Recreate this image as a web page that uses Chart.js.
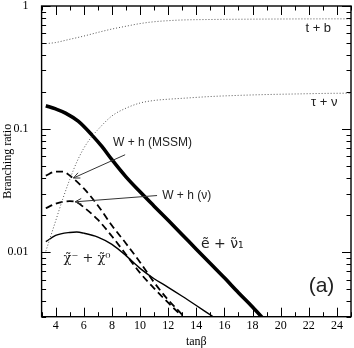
<!DOCTYPE html>
<html>
<head>
<meta charset="utf-8">
<script src="https://cdn.jsdelivr.net/npm/chart.js@4/dist/chart.umd.min.js"></script>
<style>
html,body{margin:0;padding:0;background:#fff;}
#wrap{width:354px;height:348px;position:relative;}
</style>
</head>
<body>
<div id="wrap"><canvas id="c" width="354" height="348"></canvas></div>
<script>
// ---- data ----
const tbX   = [3.3, 4, 4.8, 6, 7, 8, 9, 10, 11, 12, 13, 15, 18, 21, 25];
const tbY   = [0.495, 0.505, 0.53, 0.57, 0.61, 0.65, 0.685, 0.72, 0.745, 0.76, 0.77, 0.777, 0.782, 0.785, 0.787];

const tauX  = [3.3, 3.6, 4, 4.5, 5, 5.5, 6, 6.5, 7, 8, 9, 10, 11, 12, 13, 15, 17, 19, 21, 23, 25];
const tauY  = [0.0102, 0.013, 0.018, 0.027, 0.039, 0.054, 0.07, 0.085, 0.099, 0.128, 0.148, 0.163, 0.171, 0.175, 0.178, 0.184, 0.188, 0.191, 0.193, 0.195, 0.196];

const selX  = [3.3, 4, 4.7, 5.6, 6.6, 7.3, 8, 9, 10, 11, 12, 13, 14, 15, 16, 17, 18, 19];
const selY  = [0.155, 0.146, 0.135, 0.116, 0.089, 0.072, 0.0565, 0.041, 0.031, 0.0237, 0.0182, 0.0139, 0.0106, 0.0081, 0.0062, 0.0047, 0.0036, 0.0027];

const whmX  = [3.3, 4, 4.5, 5, 6, 7, 8, 9, 10, 11, 12, 13, 13.5];
const whmY  = [0.042, 0.0452, 0.0452, 0.042, 0.033, 0.024, 0.0165, 0.0118, 0.0083, 0.0057, 0.0041, 0.0031, 0.0026];

const whnX  = [3.3, 4, 5, 5.5, 6, 7, 8, 9, 10, 11, 12, 13, 13.5];
const whnY  = [0.0228, 0.0248, 0.026, 0.0255, 0.0232, 0.0184, 0.0135, 0.0096, 0.0068, 0.0051, 0.0039, 0.003, 0.0026];

const chiX  = [3.3, 4, 5, 5.5, 6, 7, 8, 9, 10, 11, 12, 13, 14, 15, 16];
const chiY  = [0.0122, 0.0137, 0.0145, 0.0146, 0.0143, 0.0133, 0.0116, 0.0094, 0.0074, 0.0061, 0.0052, 0.0044, 0.0037, 0.0031, 0.0026];

const xTickLabels = [4, 6, 8, 10, 12, 14, 16, 18, 20, 22, 24];
const yTickLabels = [0.01, 0.1, 1];

const xMin = 3, xMax = 25, yMin = 0.003, yMax = 1;

function pts(xs, ys){ return xs.map((x,i)=>({x:x, y:ys[i]})); }

// annotation texts: [text, x(tanβ), y(BR), font, align]
const notes = [
  ['t + b', 22.67, 0.663, '13px "Liberation Sans"', 'center'],
  ['\u03C4 + \u03BD', 23.1, 0.164, '13px "Liberation Sans"', 'center'],
  ['W + h (MSSM)', 8.08, 0.0776, '12px "Liberation Sans"', 'left'],
  ['W + h (\u03BD)', 11.57, 0.0289, '12px "Liberation Sans"', 'left'],
  ['e\u0303 + \u03BD\u0303\u2081', 15.85, 0.0116, '14px "DejaVu Sans"', 'center'],
  ['\u03C7\u0303\u207B + \u03C7\u0303\u2070', 6.23, 0.0089, '13px "DejaVu Serif"', 'center'],
  ['(a)', 22.9, 0.00528, '21px "Liberation Sans"', 'center']
];
// arrows: [fromX, fromY, toX, toY]
const arrows = [
  [8.94, 0.062, 5.26, 0.0401],
  [11.21, 0.0289, 5.38, 0.0257]
];

const decor = {
  id: 'decor',
  afterDatasetsDraw(chart){
    const ctx = chart.ctx, xs = chart.scales.x, ys = chart.scales.y, a = chart.chartArea;
    ctx.save();
    // frame
    ctx.strokeStyle = '#000';
    ctx.lineWidth = 1.4;
    ctx.strokeRect(a.left, a.top, a.right - a.left, a.bottom - a.top);
    // ticks
    ctx.lineWidth = 1;
    ctx.beginPath();
    for (let t = xMin; t <= xMax; t++) {
      const px = Math.round(xs.getPixelForValue(t)) + 0.5;
      const L = (t % 2 === 0) ? 9 : 4.5;
      ctx.moveTo(px, a.bottom); ctx.lineTo(px, a.bottom - L);
      ctx.moveTo(px, a.top); ctx.lineTo(px, a.top + L);
    }
    for (let d = 0.001; d <= 1.0001; d *= 10) {
      for (let m = 1; m <= 9; m++) {
        const v = d * m;
        if (v < yMin * 0.999 || v > yMax * 1.001) continue;
        const py = Math.round(ys.getPixelForValue(v)) + 0.5;
        const L = (m === 1) ? 9 : 4.5;
        ctx.moveTo(a.left, py); ctx.lineTo(a.left + L, py);
        ctx.moveTo(a.right, py); ctx.lineTo(a.right - L, py);
      }
    }
    ctx.stroke();
    // arrows
    ctx.strokeStyle = '#333';
    ctx.lineWidth = 1;
    arrows.forEach(ar => {
      const x1 = xs.getPixelForValue(ar[0]), y1 = ys.getPixelForValue(ar[1]);
      const x2 = xs.getPixelForValue(ar[2]), y2 = ys.getPixelForValue(ar[3]);
      const ang = Math.atan2(y2 - y1, x2 - x1);
      ctx.beginPath();
      ctx.moveTo(x1, y1); ctx.lineTo(x2, y2);
      const h = 7, s = 0.42;
      ctx.moveTo(x2 - h*Math.cos(ang - s), y2 - h*Math.sin(ang - s));
      ctx.lineTo(x2, y2);
      ctx.lineTo(x2 - h*Math.cos(ang + s), y2 - h*Math.sin(ang + s));
      ctx.stroke();
    });
    // notes
    ctx.fillStyle = '#222';
    ctx.textBaseline = 'middle';
    notes.forEach(n => {
      ctx.font = n[3];
      ctx.textAlign = n[4];
      ctx.fillText(n[0], xs.getPixelForValue(n[1]), ys.getPixelForValue(n[2]));
    });
    ctx.restore();
  }
};

new Chart(document.getElementById('c'), {
  type: 'line',
  data: {
    datasets: [
      { label: 't + b', data: pts(tbX, tbY), borderColor: '#555', borderWidth: 1, borderDash: [1, 2] },
      { label: 'tau + nu', data: pts(tauX, tauY), borderColor: '#555', borderWidth: 1, borderDash: [1, 2] },
      { label: 'selectron + sneutrino', data: pts(selX, selY), borderColor: '#000', borderWidth: 3.6 },
      { label: 'W + h (MSSM)', data: pts(whmX, whmY), borderColor: '#000', borderWidth: 1.8, borderDash: [7, 4] },
      { label: 'W + h (nu)', data: pts(whnX, whnY), borderColor: '#000', borderWidth: 1.8, borderDash: [7, 4] },
      { label: 'chargino + neutralino', data: pts(chiX, chiY), borderColor: '#000', borderWidth: 1.4 }
    ]
  },
  options: {
    responsive: false,
    animation: false,
    devicePixelRatio: 1,
    layout: { padding: { top: 6, right: 3, left: 0, bottom: 0 } },
    elements: { point: { radius: 0 }, line: { cubicInterpolationMode: 'monotone', fill: false } },
    plugins: { legend: { display: false }, tooltip: { enabled: false } },
    scales: {
      x: {
        type: 'linear', min: xMin, max: xMax,
        grid: { display: false },
        border: { display: false },
        afterBuildTicks(s){ s.ticks = xTickLabels.map(v => ({ value: v })); },
        afterFit(s){ s.height = 31.3; s.paddingLeft = 0; s.paddingRight = 0; },
        ticks: { color: '#000', padding: -6, maxRotation: 0, autoSkip: false,
                 font: { family: '"Liberation Serif"', size: 12 },
                 callback: v => String(v) },
        title: { display: true, text: 'tan\u03B2', color: '#000', padding: { top: 0, bottom: -1 },
                 font: { family: '"Liberation Serif"', size: 12 } }
      },
      y: {
        type: 'logarithmic', min: yMin, max: yMax,
        grid: { display: false },
        border: { display: false },
        afterBuildTicks(s){ s.ticks = yTickLabels.map(v => ({ value: v })); },
        afterFit(s){ s.width = 41.6; s.paddingTop = 0; s.paddingBottom = 0; },
        ticks: { color: '#000', padding: 5, autoSkip: false,
                 font: { family: '"Liberation Serif"', size: 12 },
                 callback: v => String(v) },
        title: { display: true, text: 'Branching ratio', color: '#000', padding: { top: 1, bottom: 0 },
                 font: { family: '"Liberation Serif"', size: 12 } }
      }
    }
  },
  plugins: [decor]
});
</script>
</body>
</html>
